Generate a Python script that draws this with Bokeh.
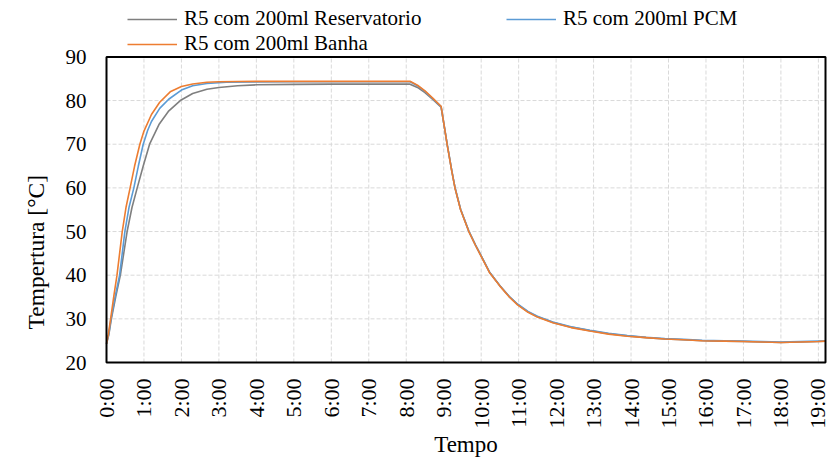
from bokeh.plotting import figure
from bokeh.models import Legend, LegendItem, FixedTicker, Range1d, Title
from bokeh.embed import file_html
from bokeh.resources import INLINE
import math

# Hours since start
t_res = [0, 0.06, 0.13, 0.25, 0.37, 0.46, 0.55, 0.68, 0.82, 0.98, 1.15, 1.4, 1.65, 1.97, 2.3, 2.68,
         3.0, 3.5, 4.0, 5.0, 6.0, 7.0, 8.1, 8.3, 8.5, 8.7, 8.93, 9.1, 9.22, 9.3, 9.45, 9.67, 9.85,
         10.0, 10.23, 10.5, 10.75, 10.97, 11.25, 11.5, 11.91, 12.4, 12.9, 13.4, 13.9, 14.4, 14.9,
         15.4, 15.9, 16.5, 17.0, 17.5, 18.0, 18.5, 19.0, 19.19]
v_res = [24.3, 26.3, 30, 35.2, 40, 45, 50, 55.5, 60, 65, 70, 74.5, 77.5, 80, 81.6, 82.6,
         83.0, 83.4, 83.6, 83.7, 83.75, 83.75, 83.75, 83.0, 81.8, 80.3, 78.5, 69.6, 63.7, 60.1, 55.1, 50.1, 46.9,
         44.4, 40.6, 37.6, 35.1, 33.3, 31.6, 30.5, 29.2, 28.1, 27.3, 26.6, 26.1, 25.7, 25.4,
         25.2, 25.0, 24.9, 24.8, 24.7, 24.6, 24.7, 24.8, 24.9]

t_pcm = [0, 0.06, 0.12, 0.24, 0.35, 0.42, 0.49, 0.6, 0.73, 0.85, 0.98, 1.1, 1.2, 1.42, 1.66, 2.0, 2.3,
         2.68, 3.2, 4.0, 5.0, 6.0, 7.0, 8.1, 8.3, 8.5, 8.7, 8.93, 9.1, 9.22, 9.3, 9.45, 9.67, 9.85,
         10.0, 10.23, 10.5, 10.75, 10.97, 11.25, 11.5, 11.91, 12.4, 12.9, 13.4, 13.9, 14.4, 14.9,
         15.4, 15.9, 16.5, 17.0, 17.5, 18.0, 18.5, 19.0, 19.19]
v_pcm = [24.3, 26.5, 30, 35.5, 40, 45, 50, 55.5, 60, 65, 70, 73.2, 75.2, 78.2, 80.3, 82.4, 83.4,
         83.9, 84.2, 84.25, 84.3, 84.3, 84.3, 84.3, 83.4, 82.1, 80.5, 78.6, 69.6, 63.7, 60.1, 55.1, 50.1, 46.9,
         44.4, 40.6, 37.6, 35.1, 33.4, 31.7, 30.6, 29.3, 28.2, 27.4, 26.7, 26.2, 25.8, 25.5,
         25.3, 25.1, 25.0, 24.9, 24.8, 24.7, 24.8, 24.9, 24.9]

t_ban = [0, 0.05, 0.11, 0.2, 0.28, 0.35, 0.42, 0.52, 0.63, 0.75, 0.89, 1.0, 1.2, 1.42, 1.7, 2.0,
         2.3, 2.68, 3.0, 3.5, 4.0, 5.0, 6.0, 7.0, 8.1, 8.3, 8.5, 8.7, 8.93, 9.1, 9.22, 9.3, 9.45,
         9.67, 9.85, 10.0, 10.23, 10.5, 10.75, 10.97, 11.25, 11.5, 11.91, 12.4, 12.9, 13.4, 13.9,
         14.4, 14.9, 15.4, 15.9, 16.5, 17.0, 17.5, 18.0, 18.5, 19.0, 19.19]
v_ban = [24.3, 26.5, 30, 35.5, 40, 45, 50, 55.5, 60, 65, 70, 73.0, 76.8, 79.6, 82.0, 83.2,
         83.8, 84.2, 84.3, 84.35, 84.4, 84.4, 84.4, 84.4, 84.4, 83.5, 82.2, 80.6, 78.7, 69.5, 63.6, 60, 55,
         50, 46.8, 44.3, 40.5, 37.5, 35.0, 33.2, 31.5, 30.4, 29.1, 28.0, 27.2, 26.5, 26.0,
         25.7, 25.4, 25.2, 25.0, 24.9, 24.8, 24.7, 24.6, 24.7, 24.8, 24.9]

hour_ticks = list(range(0, 20))
hour_labels = {h: f"{h}:00" for h in hour_ticks}
y_ticks = [20, 30, 40, 50, 60, 70, 80, 90]

series_names = ["R5 com 200ml Reservatorio", "R5 com 200ml PCM", "R5 com 200ml Banha"]
series_colors = ["#7F7F7F", "#5B9BD5", "#ED7D31"]

FONT = "Liberation Serif"

# ---- layout geometry (pixels) ----
W, H = 829, 459
BOX_L, BOX_R, BOX_T, BOX_B = 106, 825, 57, 366   # plot box in page pixels
PAD = 2                                          # frame margin around the box
x_lo, x_hi = t_res[0], t_res[-1]
y_lo, y_hi = y_ticks[0], y_ticks[-1]
px_per_x = (BOX_R - BOX_L) / (x_hi - x_lo)
px_per_y = (BOX_B - BOX_T) / (y_hi - y_lo)
frame_l, frame_r, frame_t, frame_b = BOX_L - PAD, BOX_R + PAD, 0, BOX_B + PAD

x_range = Range1d(x_lo - PAD / px_per_x, x_hi + PAD / px_per_x)
y_range = Range1d(y_lo - PAD / px_per_y, y_hi + (BOX_T - frame_t) / px_per_y)

p = figure(width=W, height=H, output_backend="svg", toolbar_location=None,
           x_range=x_range, y_range=y_range,
           min_border_left=frame_l, min_border_right=W - frame_r,
           min_border_top=frame_t, min_border_bottom=H - frame_b)
p.background_fill_color = "white"
p.border_fill_color = "white"
p.outline_line_color = None
p.xgrid.visible = False
p.ygrid.visible = False

# dashed grid restricted to the plot box
grid_style = dict(line_color="#D9D9D9", line_width=1, line_dash="4 2")
p.segment(x0=hour_ticks, y0=y_lo, x1=hour_ticks, y1=y_hi, **grid_style)
p.segment(x0=x_lo, y0=y_ticks, x1=x_hi, y1=y_ticks, **grid_style)

r1 = p.line(t_res, v_res, line_color=series_colors[0], line_width=1.6)
r2 = p.line(t_pcm, v_pcm, line_color=series_colors[1], line_width=1.6)
r3 = p.line(t_ban, v_ban, line_color=series_colors[2], line_width=1.6)

# black plot-area border
p.quad(left=[x_lo], right=[x_hi], bottom=[y_lo], top=[y_hi],
       fill_color=None, line_color="black", line_width=2)

p.xaxis.ticker = FixedTicker(ticks=hour_ticks)
p.xaxis.major_label_overrides = hour_labels
p.xaxis.major_label_orientation = math.pi / 2
p.yaxis.ticker = FixedTicker(ticks=y_ticks)

for ax in (p.xaxis[0], p.yaxis[0]):
    ax.axis_line_color = None
    ax.major_tick_line_color = None
    ax.minor_tick_line_color = None
    ax.major_tick_out = 0
    ax.major_tick_in = 0
    ax.major_label_text_font = FONT
    ax.major_label_text_color = "black"
    ax.axis_label_text_font = FONT
    ax.axis_label_text_font_style = "normal"
    ax.axis_label_text_color = "black"

p.yaxis.major_label_text_font_size = "21px"
p.xaxis.major_label_text_font_size = "22px"
p.yaxis.major_label_standoff = 18
p.xaxis.major_label_standoff = 14
p.xaxis.axis_label = "Tempo"
p.xaxis.axis_label_text_font_size = "23px"
p.xaxis.axis_label_standoff = 0

ytitle = Title(text="Tempertura [°C]", align="left", offset=35, standoff=27,
               text_font=FONT, text_font_size="23.5px", text_font_style="normal", text_color="black")
p.add_layout(ytitle, "left")

legend = Legend(items=[LegendItem(label=series_names[0], renderers=[r1]),
                       LegendItem(label=series_names[1], renderers=[r2]),
                       LegendItem(label=series_names[2], renderers=[r3])],
                orientation="horizontal", ncols=2,
                location=(127 - frame_l, frame_b - 60),
                glyph_width=50, label_standoff=7, label_width=322, spacing=0, padding=0, margin=0,
                label_text_font=FONT, label_text_font_size="21px", label_text_color="black",
                border_line_color=None, background_fill_alpha=0)
p.add_layout(legend, "center")

open("out.html", "w").write(file_html(p, INLINE))
